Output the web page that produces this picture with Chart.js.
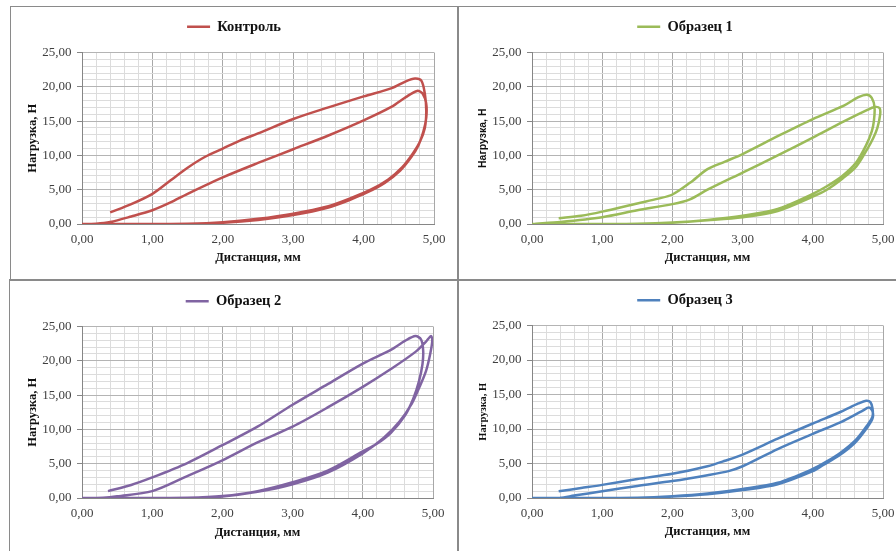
<!DOCTYPE html>
<html>
<head>
<meta charset="utf-8">
<script src="https://cdn.jsdelivr.net/npm/chart.js@4.4.1/dist/chart.umd.min.js"></script>
<style>
  html, body { margin: 0; padding: 0; background: #fff; }
  #page { position: relative; width: 896px; height: 551px; overflow: hidden; background: #fff; }
  canvas { position: absolute; }
  .ln { position: absolute; background: #8a8a8a; }
</style>
</head>
<body>
<div id="page">
  <div class="ln" style="left:10px;top:6px;width:886px;height:1px"></div>
  <div class="ln" style="left:10px;top:6px;width:1px;height:273px"></div>
  <div class="ln" style="left:9px;top:279px;width:1px;height:272px"></div>
  <div class="ln" style="left:457px;top:6px;width:2px;height:545px"></div>
  <div class="ln" style="left:9px;top:279px;width:887px;height:2px"></div>
  <canvas id="c1" width="446" height="272" style="left:11px;top:7px"></canvas>
  <canvas id="c2" width="452" height="272" style="left:459px;top:7px"></canvas>
  <canvas id="c3" width="447" height="270" style="left:10px;top:281px"></canvas>
  <canvas id="c4" width="452" height="270" style="left:459px;top:281px"></canvas>
</div>
<script>
// Distance (mm) / load (N) loops, two cycles each
const controlX = [0.40, 0.7, 1.0, 1.25, 1.5, 1.75, 2.0, 2.25, 2.5, 3.0, 3.5, 4.0, 4.4, 4.6, 4.73, 4.82, 4.87, 4.89, 4.87,
  4.80, 4.70, 4.55, 4.35, 4.1, 3.8, 3.5, 3.0, 2.5, 2.0, 1.5, 1.0, 0.5, 0,
  0.2, 0.4, 0.7, 1.0, 1.25, 1.5, 2.0, 2.5, 3.0, 3.5, 4.0, 4.4, 4.6, 4.76, 4.84, 4.89, 4.89, 4.85,
  4.78, 4.68, 4.52, 4.3, 4.05, 3.8, 3.5, 3.0, 2.5, 2.0, 1.5];
const controlY = [1.70, 2.9, 4.4, 6.3, 8.2, 9.8, 11.0, 12.2, 13.2, 15.3, 17.0, 18.6, 19.8, 20.8, 21.2, 20.9, 19.0, 16.5, 14.0,
  12.0, 10.3, 8.3, 6.5, 5.0, 3.7, 2.6, 1.5, 0.75, 0.25, 0.02, 0, 0, 0,
  0.05, 0.3, 1.1, 2.0, 3.1, 4.4, 6.8, 8.9, 10.9, 12.9, 15.1, 17.1, 18.5, 19.4, 19.0, 17.5, 15.5, 13.5,
  11.5, 9.8, 7.8, 6.0, 4.6, 3.5, 2.4, 1.3, 0.6, 0.18, 0];

const sample1X = [0.38, 0.7, 1.0, 1.5, 1.8, 2.0, 2.25, 2.5, 2.75, 3.0, 3.5, 4.0, 4.45, 4.65, 4.77, 4.84, 4.88, 4.87, 4.84,
  4.76, 4.62, 4.42, 4.2, 4.0, 3.5, 3.0, 2.5, 2.0, 1.5, 1.0, 0.5, 0,
  0.4, 1.0, 1.5, 2.0, 2.25, 2.5, 3.0, 3.5, 4.0, 4.45, 4.77, 4.88, 4.95, 4.96, 4.92, 4.86,
  4.78, 4.62, 4.42, 4.2, 4.0, 3.5, 3.0, 2.5, 2.0, 1.5];
const sample1Y = [0.85, 1.2, 1.8, 3.0, 3.7, 4.3, 6.0, 8.0, 9.1, 10.2, 12.8, 15.3, 17.3, 18.5, 18.85, 18.4, 17.0, 15.0, 13.5,
  11.5, 9.0, 7.0, 5.5, 4.4, 2.2, 1.2, 0.6, 0.22, 0.03, 0, 0, 0,
  0.3, 1.0, 2.0, 2.9, 3.6, 5.0, 7.5, 10.0, 12.6, 15.0, 16.6, 17.05, 16.9, 16.0, 14.0, 12.5,
  11.0, 8.4, 6.6, 5.0, 4.0, 1.9, 1.0, 0.55, 0.2, 0];

const sample2X = [0.37, 0.7, 1.0, 1.5, 2.0, 2.5, 3.0, 3.5, 4.0, 4.4, 4.6, 4.75, 4.83, 4.86, 4.85, 4.8,
  4.72, 4.6, 4.4, 4.2, 4.0, 3.5, 3.0, 2.5, 2.0, 1.5, 1.0, 0.5, 0,
  0.3, 0.5, 1.0, 1.5, 2.0, 2.5, 3.0, 3.5, 4.0, 4.4, 4.75, 4.9, 4.97, 4.99, 4.96, 4.9, 4.8,
  4.7, 4.52, 4.3, 4.0, 3.5, 3.0, 2.5, 2.0, 1.5];
const sample2Y = [1.0, 1.9, 3.0, 5.1, 7.7, 10.4, 13.6, 16.6, 19.6, 21.6, 22.9, 23.6, 23.1, 21.5, 19.5, 17.0,
  14.5, 12.0, 9.5, 7.9, 6.8, 4.0, 2.3, 1.0, 0.28, 0.02, 0, 0, 0,
  0.05, 0.25, 1.0, 3.2, 5.5, 8.1, 10.4, 13.2, 16.2, 18.8, 21.3, 22.8, 23.6, 23.0, 21.0, 18.5, 16.0,
  13.8, 11.1, 8.8, 6.5, 3.7, 2.0, 0.9, 0.22, 0];

const sample3X = [0.38, 0.7, 1.0, 1.5, 2.0, 2.5, 2.75, 3.0, 3.5, 4.0, 4.4, 4.65, 4.76, 4.82, 4.85, 4.85,
  4.78, 4.62, 4.4, 4.2, 4.0, 3.5, 3.0, 2.5, 2.0, 1.5, 1.0, 0.5, 0,
  0.4, 0.6, 1.0, 1.5, 2.0, 2.5, 2.8, 3.0, 3.5, 4.0, 4.4, 4.7, 4.8, 4.85, 4.85,
  4.76, 4.6, 4.38, 4.15, 4.0, 3.5, 3.0, 2.5, 2.0, 1.5];
const sample3Y = [0.97, 1.45, 1.9, 2.75, 3.5, 4.6, 5.4, 6.3, 8.6, 10.8, 12.5, 13.7, 14.1, 13.9, 13.0, 11.8,
  10.6, 8.5, 6.6, 5.3, 4.2, 2.2, 1.3, 0.65, 0.25, 0.02, 0, 0, 0,
  0.02, 0.35, 0.97, 1.75, 2.45, 3.3, 3.9, 4.6, 7.1, 9.3, 11.0, 12.6, 13.1, 12.6, 11.5,
  10.0, 8.0, 6.2, 4.8, 3.9, 2.0, 1.15, 0.55, 0.2, 0];

const xTitle = 'Дистанция, мм';
const yTitle = 'Нагрузка, Н';

const serif = "'Liberation Serif', 'Times New Roman', serif";
const sans = "'Liberation Sans', Arial, sans-serif";

function fmt(v) {
  return v.toFixed(2).replace('.', ',');
}

function makeChart(id, label, color, xs, ys, cfg) {
  const points = xs.map((x, i) => ({ x: x, y: ys[i] }));
  const isMajorX = v => Math.abs(v - Math.round(v)) < 1e-6;
  const isMajorY = v => Math.abs(v / 5 - Math.round(v / 5)) < 1e-6;

  return new Chart(document.getElementById(id), {
    type: 'scatter',
    data: {
      datasets: [{
        label: label,
        data: points,
        xAxisID: 'x',
        yAxisID: 'y',
        showLine: true,
        borderColor: color,
        backgroundColor: color,
        borderWidth: 2.5,
        pointRadius: 0,
        tension: 0.3
      }]
    },
    options: {
      responsive: false,
      animation: false,
      events: [],
      layout: {
        autoPadding: false,
        padding: { top: cfg.padTop, right: 0, bottom: 0, left: 0 }
      },
      plugins: {
        tooltip: { enabled: false },
        legend: {
          position: 'top',
          labels: {
            usePointStyle: true,
            pointStyle: 'line',
            pointStyleWidth: 23,
            padding: 10,
            color: '#111',
            font: { family: serif, size: 14.5, weight: 'bold' }
          }
        }
      },
      scales: {
        x: {
          type: 'linear',
          min: 0,
          max: 5,
          ticks: {
            stepSize: 0.2,
            maxTicksLimit: 100,
            autoSkip: false,
            maxRotation: 0,
            padding: 7.5,
            color: '#404040',
            font: { family: serif, size: 13 },
            callback: v => isMajorX(v) ? fmt(v) : ''
          },
          grid: {
            drawTicks: false,
            color: c => isMajorX(c.tick.value) ? '#a8a8a8' : '#dcdcdc'
          },
          border: { color: '#868686' },
          title: {
            display: true,
            text: xTitle,
            color: '#111',
            font: { family: serif, size: 12.5, weight: 'bold', lineHeight: 1.2 },
            padding: { top: 0, bottom: cfg.xTitlePad }
          },
          afterFit: s => { s.height = cfg.xAxisH; }
        },
        y: {
          type: 'linear',
          min: 0,
          max: 25,
          ticks: {
            stepSize: 1,
            maxTicksLimit: 100,
            autoSkip: false,
            padding: 5.5,
            color: '#404040',
            font: { family: serif, size: 13 },
            callback: v => isMajorY(v) ? fmt(v) : ''
          },
          grid: {
            tickLength: 5,
            color: c => isMajorY(c.tick.value) ? '#b4b4b4' : '#dcdcdc',
            tickColor: c => isMajorY(c.tick.value) ? '#868686' : 'rgba(0,0,0,0)'
          },
          border: { color: '#868686' },
          title: {
            display: true,
            text: yTitle,
            color: '#111',
            font: { family: cfg.yFont, size: cfg.ySize, weight: 'bold', lineHeight: 1.2 },
            padding: { top: cfg.yTitlePad, bottom: 0 }
          },
          afterFit: s => { s.width = cfg.yAxisW; }
        },
        // empty axes used only as spacers round the plot area
        gap: {
          type: 'linear',
          axis: 'x',
          position: 'top',
          display: true,
          grid: { display: false, drawTicks: false },
          border: { display: false },
          ticks: { display: false },
          afterFit: s => { s.height = cfg.gap; }
        },
        side: {
          type: 'linear',
          axis: 'y',
          position: 'right',
          display: true,
          grid: { display: false, drawTicks: false },
          border: { display: false },
          ticks: { display: false },
          afterFit: s => { s.width = cfg.padRight; }
        }
      }
    }
  });
}

makeChart('c1', 'Контроль', '#c0504d', controlX, controlY,
  { padTop: 2.5, padRight: 23, gap: 8.5, xAxisH: 55, xTitlePad: 13.5, yAxisW: 71, yFont: serif, ySize: 12.5, yTitlePad: 14.5 });
makeChart('c2', 'Образец 1', '#9bbb59', sample1X, sample1Y,
  { padTop: 2.5, padRight: 28, gap: 8.5, xAxisH: 55, xTitlePad: 13.5, yAxisW: 73, yFont: sans, ySize: 10.5, yTitlePad: 17.5 });
makeChart('c3', 'Образец 2', '#8064a2', sample2X, sample2Y,
  { padTop: 3, padRight: 24, gap: 8, xAxisH: 53, xTitlePad: 10.5, yAxisW: 72, yFont: serif, ySize: 12.5, yTitlePad: 15.5 });
makeChart('c4', 'Образец 3', '#4f81bd', sample3X, sample3Y,
  { padTop: 2, padRight: 28, gap: 8, xAxisH: 53, xTitlePad: 11.5, yAxisW: 73, yFont: serif, ySize: 10.5, yTitlePad: 17.5 });
</script>
</body>
</html>
